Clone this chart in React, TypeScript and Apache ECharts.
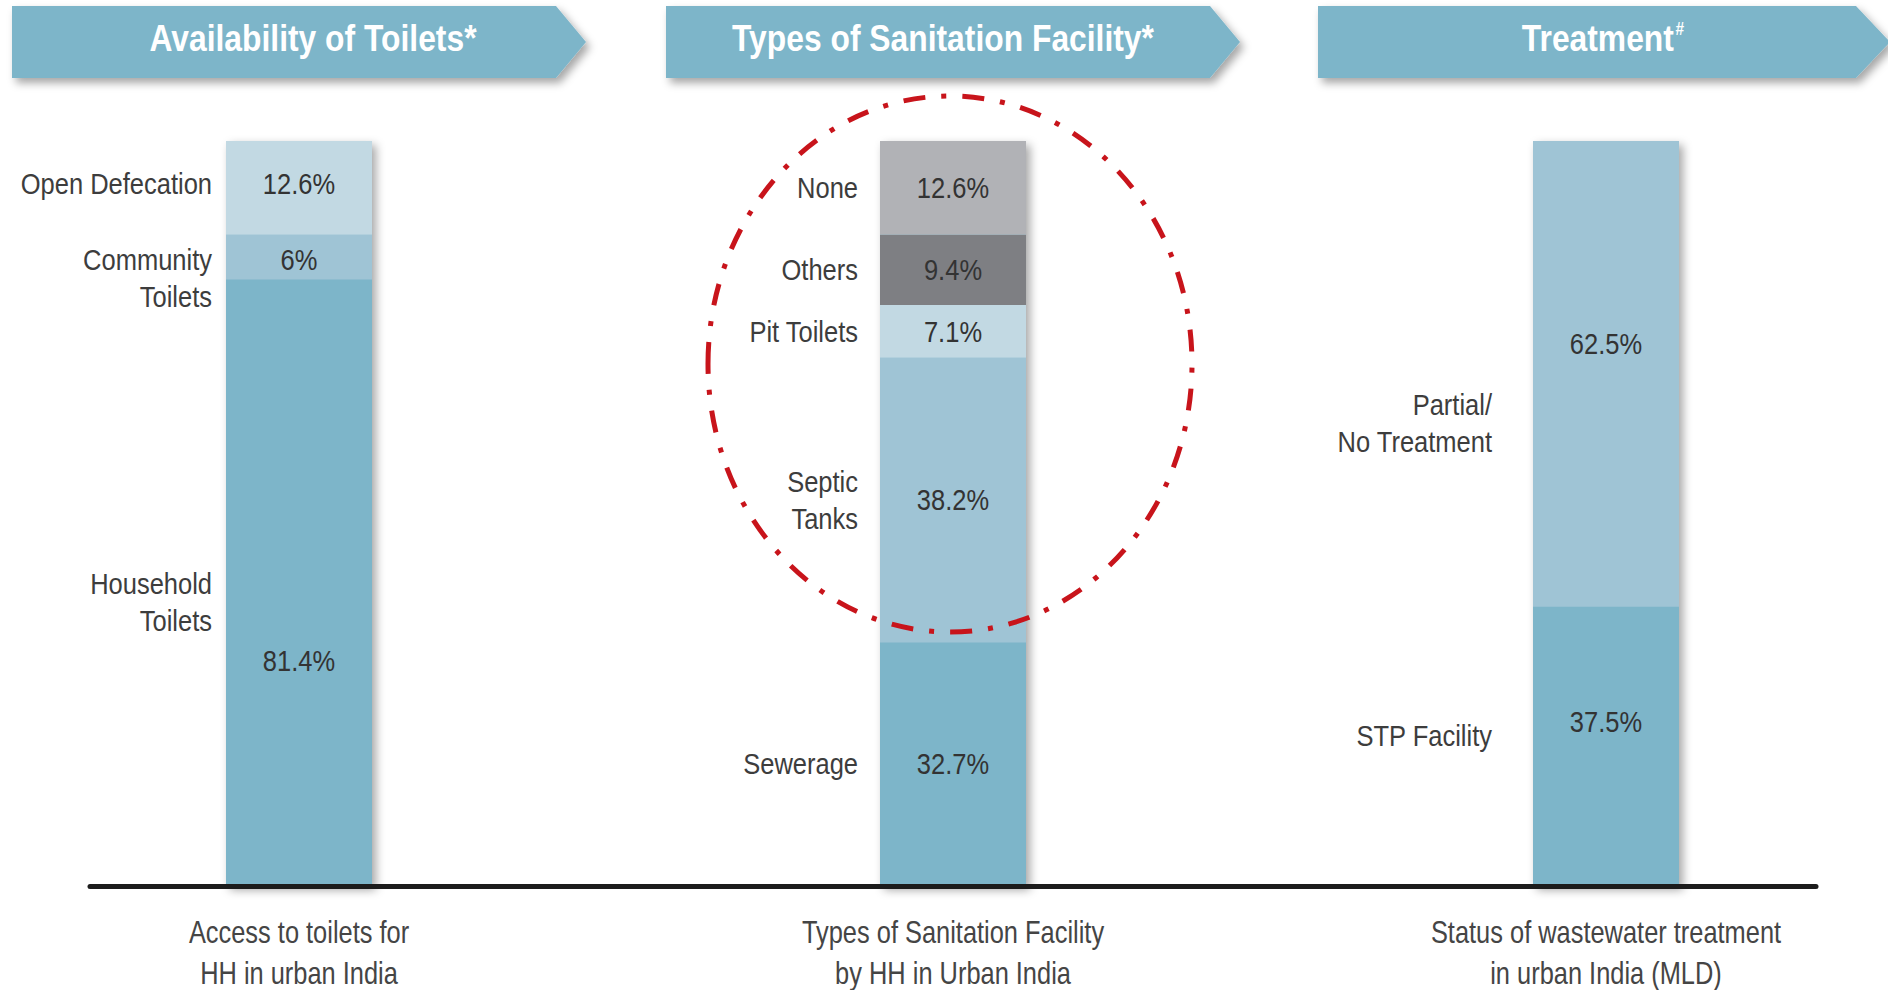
import React, { useEffect, useRef } from "react";
import * as echarts from "echarts";

// ---------- data ----------
const panelTitles = ["Availability of Toilets*", "Types of Sanitation Facility*", "Treatment"];
const panelCaptions = [
  "Access to toilets for\nHH in urban India",
  "Types of Sanitation Facility\nby HH in Urban India",
  "Status of wastewater treatment\nin urban India (MLD)",
];

// segments listed bottom-to-top
const toiletNames = ["Household\nToilets", "Community\nToilets", "Open Defecation"];
const toiletValues = [81.4, 6, 12.6];

const sanitationNames = ["Sewerage", "Septic\nTanks", "Pit Toilets", "Others", "None"];
const sanitationValues = [32.7, 38.2, 7.1, 9.4, 12.6];

const treatmentNames = ["STP Facility", "Partial/\nNo Treatment"];
const treatmentValues = [37.5, 62.5];

// ---------- styles ----------
const FONT = '"Liberation Sans", Arial, sans-serif';
const SQUEEZE = 0.85;
const BLUE = "#7db5c9";
const MID = "#9fc4d5";
const LIGHT = "#c2d9e3";

const panels = [
  { names: toiletNames, values: toiletValues, colors: [BLUE, MID, LIGHT], left: 226, nameDist: 14,
    nudges: [[78, 19], [3, 21], [-4, -4]] },
  { names: sanitationNames, values: sanitationValues, colors: [BLUE, MID, LIGHT, "#7e7f83", "#b1b2b6"], left: 880, nameDist: 22,
    nudges: [[0, 0], [0, 0], [0, 0], [0, 0], [0, 0]] },
  { names: treatmentNames, values: treatmentValues, colors: [BLUE, MID], left: 1533, nameDist: 41,
    nudges: [[-25, -11], [-30, 49]] },
];
const BAR_W = 146;
const GRID_TOP = 141;
const GRID_BOTTOM = 104;

function textEl(x: number, y: number, text: string, font: string, fill: string, align: string, vAlign: string, lineHeight?: number, sx = SQUEEZE) {
  return {
    type: "text",
    x, y, scaleX: sx,
    style: {
      text, font, fill,
      align, textAlign: align,
      verticalAlign: vAlign, textVerticalAlign: vAlign,
      lineHeight,
    },
  };
}

function buildOption() {
  const grids: any[] = [];
  const xAxes: any[] = [];
  const yAxes: any[] = [];
  const series: any[] = [];

  panels.forEach((p, i) => {
    grids.push({ left: p.left, width: BAR_W, top: GRID_TOP, bottom: GRID_BOTTOM });
    xAxes.push({
      type: "category", gridIndex: i, data: [panelCaptions[i]],
      axisLine: { show: false }, axisTick: { show: false }, axisLabel: { show: false },
    });
    yAxes.push({ type: "value", gridIndex: i, min: 0, max: 100, show: false });

    const total = p.values.reduce((a, b) => a + b, 0);
    series.push({
      type: "bar", xAxisIndex: i, yAxisIndex: i, stack: "shadow" + i, data: [total],
      barWidth: "100%", barGap: "-100%", silent: true, z: 1,
      itemStyle: { color: BLUE, shadowBlur: 10, shadowOffsetX: 4, shadowOffsetY: 4, shadowColor: "rgba(0,0,0,0.35)" },
    });
    p.values.forEach((v, k) => {
      series.push({
        type: "bar", xAxisIndex: i, yAxisIndex: i, stack: "v" + i, data: [v], name: p.names[k],
        barWidth: "100%", barGap: "-100%", z: 2,
        itemStyle: { color: p.colors[k] },
      });
    });

    // labels (value inside, name to the left, caption below) via a custom series
    const rows: number[][] = [];
    let acc = 0;
    p.values.forEach((v, k) => {
      rows.push([0, acc, acc + v, k]);
      acc += v;
    });
    series.push({
      type: "custom", xAxisIndex: i, yAxisIndex: i, z: 5, silent: true, clip: false,
      encode: { x: 0, y: [1, 2] },
      data: rows,
      renderItem: (_params: any, api: any) => {
        const k = api.value(3);
        const bottom = api.coord([0, api.value(1)]);
        const top = api.coord([0, api.value(2)]);
        const bw = api.size([1, 0])[0];
        const cx = bottom[0];
        const midY = (bottom[1] + top[1]) / 2;
        const children: any[] = [
          textEl(cx, midY + p.nudges[k][0], p.values[k] + "%", "30px " + FONT, "#333333", "center", "middle"),
          textEl(cx - bw / 2 - p.nameDist, midY + p.nudges[k][1], p.names[k], "30px " + FONT, "#3d3d3d", "right", "middle", 37),
        ];
        if (k === 0) {
          children.push(textEl(cx, bottom[1] + 26, panelCaptions[i], "31px " + FONT, "#454545", "center", "top", 41, 0.82));
        }
        return { type: "group", children };
      },
    });
  });

  // baseline axis spanning the whole chart
  grids.push({ left: 90, right: 72, top: GRID_TOP, bottom: GRID_BOTTOM });
  xAxes.push({
    type: "category", gridIndex: 3, data: [""], z: 10,
    axisLine: { show: true, lineStyle: { color: "#1c1c1c", width: 5 } },
    axisTick: { show: false }, axisLabel: { show: false },
  });
  yAxes.push({ type: "value", gridIndex: 3, min: 0, max: 100, show: false });
  series.push({ type: "bar", xAxisIndex: 3, yAxisIndex: 3, data: [] });

  // banners
  const banners = [
    { l: 12, r: 556, tip: 586, tx: 313 },
    { l: 666, r: 1210, tip: 1240, tx: 943 },
    { l: 1318, r: 1856, tip: 1890, tx: 1603 },
  ];
  const graphics: any[] = [];
  banners.forEach((b, i) => {
    graphics.push({
      type: "polygon", z: 5,
      shape: { points: [[b.l, 6], [b.r, 6], [b.tip, 42], [b.r, 78], [b.l, 78]] },
      style: { fill: BLUE, shadowBlur: 8, shadowOffsetX: 4, shadowOffsetY: 5, shadowColor: "rgba(0,0,0,0.35)" },
    });
    const isLast = i === 2;
    graphics.push({
      type: "text", z: 6, x: b.tx, y: 38, scaleX: 0.86,
      style: isLast
        ? {
            text: "{m|" + panelTitles[i] + "}{s|#}",
            textAlign: "center", align: "center", textVerticalAlign: "middle", verticalAlign: "middle",
            rich: {
              m: { fontFamily: FONT, fontWeight: "bold", fontSize: 37, fill: "#fff", color: "#fff" },
              s: { fontFamily: FONT, fontWeight: "bold", fontSize: 18, fill: "#fff", color: "#fff", padding: [0, 0, 18, 2] },
            },
          }
        : {
            text: panelTitles[i], fill: "#fff",
            font: "bold 37px " + FONT,
            textAlign: "center", align: "center", textVerticalAlign: "middle", verticalAlign: "middle",
          },
    });
  });
  graphics.push({
    type: "ellipse", z: 100,
    shape: { cx: 950, cy: 364, rx: 242, ry: 268 },
    style: { fill: "none", stroke: "#c8141b", lineWidth: 5, lineDash: [22, 16, 5, 16] },
  });

  return {
    animation: false,
    backgroundColor: "#ffffff",
    grid: grids,
    xAxis: xAxes,
    yAxis: yAxes,
    series,
    graphic: graphics,
  };
}

export default function App() {
  const ref = useRef<HTMLDivElement>(null);
  useEffect(() => {
    if (!ref.current) return;
    const chart = echarts.init(ref.current, undefined, { renderer: "svg" });
    chart.setOption(buildOption() as any);
    return () => chart.dispose();
  }, []);
  return (
    <div
      ref={ref}
      style={{ position: "fixed", left: 0, top: 0, width: 1888, height: 990, background: "#fff" }}
    />
  );
}
